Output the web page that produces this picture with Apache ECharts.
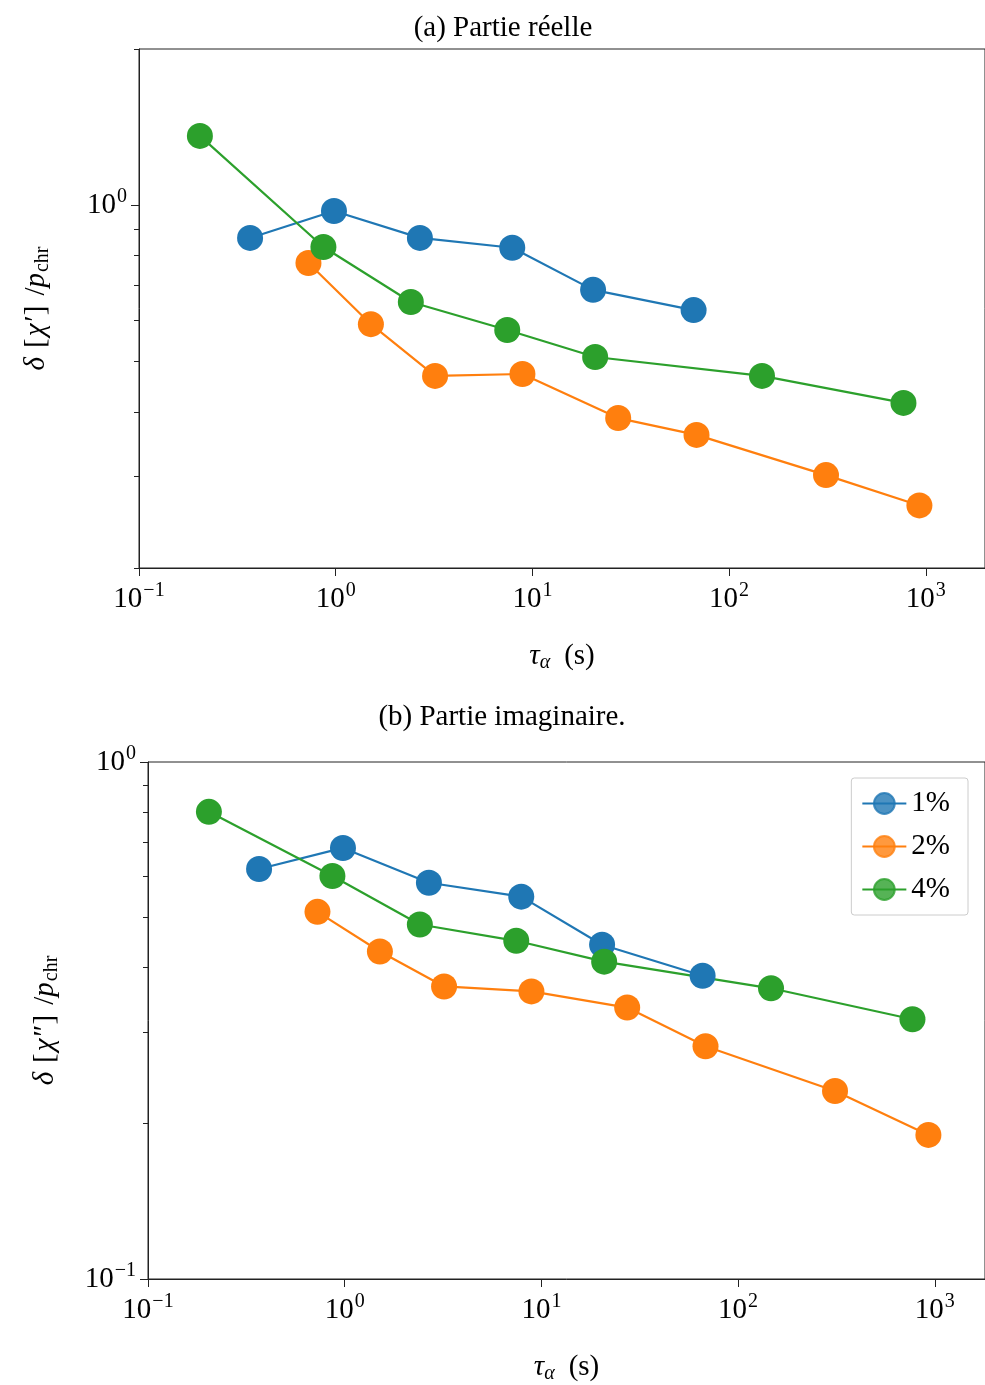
<!DOCTYPE html>
<html>
<head>
<meta charset="utf-8">
<script src="https://cdn.jsdelivr.net/npm/echarts@6/dist/echarts.min.js"></script>
<style>html,body{margin:0;padding:0;background:#fff}#c{width:985px;height:1385px}</style>
</head>
<body>
<div id="c"></div>
<script>
// ---- data ----
const seriesNames = ['1%', '2%', '4%'];
const tau1 = [0.367, 0.98, 2.68, 7.9, 20.35, 66];
const tau2 = [0.727, 1.51, 3.2, 8.9, 27.3, 68.3, 311, 928];
const tau4 = [0.204, 0.866, 2.41, 7.45, 20.85, 147, 770];
// (a) real part
const real1 = [0.865, 0.975, 0.865, 0.828, 0.687, 0.628];
const real2 = [0.774, 0.590, 0.469, 0.473, 0.389, 0.361, 0.302, 0.264];
const real4 = [1.36, 0.831, 0.651, 0.575, 0.510, 0.469, 0.416];
// (b) imaginary part
const imag1 = [0.621, 0.682, 0.584, 0.549, 0.443, 0.386];
const imag2 = [0.513, 0.430, 0.368, 0.360, 0.335, 0.282, 0.231, 0.190];
const imag4 = [0.801, 0.602, 0.485, 0.451, 0.411, 0.365, 0.318];
const xMajorTicks = [0.1, 1, 10, 100, 1000];
const yMajorTopTicks = [1];
const yMinorTopTicks = [0.2, 0.3, 0.4, 0.5, 0.6, 0.7, 0.8, 0.9, 2];
const yMajorBotTicks = [0.1, 1];
const yMinorBotTicks = [0.2, 0.3, 0.4, 0.5, 0.6, 0.7, 0.8, 0.9];
const colors = ['#1f77b4', '#ff7f0e', '#2ca02c'];

const FONT = "'Liberation Serif', 'DejaVu Serif', serif";
const FS = 29;
const pairs = (xs, ys) => xs.map((x, i) => [x, ys[i]]);

function powLabel(v) {
  const e = Math.round(Math.log10(v));
  return '{b|10}{sup|' + (e < 0 ? '\u2212' + (-e) : e) + '}';
}
const powRich = {
  b: { fontSize: FS, fontFamily: FONT, color: '#000' },
  sup: { fontSize: 20, fontFamily: FONT, color: '#000', padding: [0, 0, 16, 1] }
};
const nameRich = {
  r: { fontSize: FS, fontFamily: FONT, color: '#000' },
  lb: { fontSize: FS, fontFamily: FONT, color: '#000', padding: [0, 2, 0, 9] },
  rb: { fontSize: FS, fontFamily: FONT, color: '#000', padding: [0, 10, 0, 2] },
  ps: { fontSize: FS, fontFamily: FONT, color: '#000', padding: [0, 0, 0, 14] },
  it: { fontSize: FS, fontFamily: FONT, fontStyle: 'italic', color: '#000' },
  sub: { fontSize: 20, fontFamily: FONT, color: '#000', padding: [13, 0, 0, 1] },
  subi: { fontSize: 20, fontFamily: FONT, fontStyle: 'italic', color: '#000', padding: [13, 0, 0, 0] }
};

function xAxis(gridIndex) {
  return {
    type: 'log', logBase: 10, gridIndex,
    min: 0.1, max: gridIndex === 0 ? 2000 : 1800,
    name: '{it|τ}{subi|α}{ps|(s)}', nameLocation: 'middle', nameGap: 72,
    nameTextStyle: { rich: nameRich },
    axisLine: { show: true, lineStyle: { color: '#222', width: 1 } },
    axisTick: { show: true, length: 8, customValues: xMajorTicks, lineStyle: { color: '#222' } },
    axisLabel: { customValues: xMajorTicks, formatter: powLabel, rich: powRich, margin: 13 },
    splitLine: { show: false }, minorTick: { show: false }
  };
}
function yAxisMajor(gridIndex, min, max, ticks, name) {
  return {
    type: 'log', logBase: 10, gridIndex, min, max, position: 'left',
    name, nameLocation: 'middle', nameGap: 86, nameRotate: 90,
    nameTextStyle: { rich: nameRich },
    axisLine: { show: true, lineStyle: { color: '#222', width: 1 } },
    axisTick: { show: true, length: 8, customValues: ticks, lineStyle: { color: '#222' } },
    axisLabel: { customValues: ticks, formatter: powLabel, rich: powRich, margin: 12 },
    splitLine: { show: false }
  };
}
function yAxisMinor(gridIndex, min, max, ticks) {
  return {
    type: 'log', logBase: 10, gridIndex, min, max, position: 'left',
    axisLine: { show: false },
    axisTick: { show: true, length: 5, customValues: ticks, lineStyle: { color: '#222' } },
    axisLabel: { show: false },
    splitLine: { show: false }
  };
}
function line(name, data, ci, xi, yi) {
  return {
    type: 'line', name, data, xAxisIndex: xi, yAxisIndex: yi,
    symbol: 'circle', symbolSize: 26,
    lineStyle: { color: colors[ci], width: 2.2 },
    itemStyle: { color: colors[ci] },
    emphasis: { disabled: true }, animation: false
  };
}

const chart = echarts.init(document.getElementById('c'), null, { renderer: 'canvas' });
chart.setOption({
  backgroundColor: '#fff',
  animation: false,
  grid: [
    { left: 139, top: 49, width: 848, height: 519, show: true, borderColor: '#222', borderWidth: 1, containLabel: false },
    { left: 148, top: 762, width: 839, height: 518, show: true, borderColor: '#222', borderWidth: 1, containLabel: false }
  ],
  xAxis: [xAxis(0), xAxis(1)],
  yAxis: [
    yAxisMajor(0, 0.2, 2, yMajorTopTicks, '{it|δ}{lb|[}{it|χ′}{rb|]}{r|/}{it|p}{sub|chr}'),
    yAxisMinor(0, 0.2, 2, yMinorTopTicks),
    yAxisMajor(1, 0.1, 1, yMajorBotTicks, '{it|δ}{lb|[}{it|χ″}{rb|]}{r|/}{it|p}{sub|chr}'),
    yAxisMinor(1, 0.1, 1, yMinorBotTicks)
  ],
  legend: {
    data: seriesNames.map((n, i) => ({
      name: n,
      itemStyle: { color: colors[i], opacity: 0.8, borderColor: colors[i], borderWidth: 2 }
    })),
    orient: 'vertical', right: 17, top: 778,
    itemWidth: 44, itemHeight: 26, itemGap: 14,
    padding: [11, 18, 11, 10],
    backgroundColor: '#fff', borderColor: '#ccc', borderWidth: 1, borderRadius: 3,
    textStyle: { fontFamily: FONT, fontSize: FS, color: '#000' },
    selectedMode: false
  },
  graphic: [
    { type: 'text', x: 503, y: 28, style: { text: '(a) Partie réelle', font: FS + 'px ' + FONT, fill: '#000', textAlign: 'center', textVerticalAlign: 'middle' } },
    { type: 'text', x: 502, y: 717, style: { text: '(b) Partie imaginaire.', font: FS + 'px ' + FONT, fill: '#000', textAlign: 'center', textVerticalAlign: 'middle' } }
  ],
  series: [
    line('1%', pairs(tau1, real1), 0, 0, 0),
    line('2%', pairs(tau2, real2), 1, 0, 0),
    line('4%', pairs(tau4, real4), 2, 0, 0),
    line('1%', pairs(tau1, imag1), 0, 1, 2),
    line('2%', pairs(tau2, imag2), 1, 1, 2),
    line('4%', pairs(tau4, imag4), 2, 1, 2)
  ]
});
</script>
</body>
</html>
